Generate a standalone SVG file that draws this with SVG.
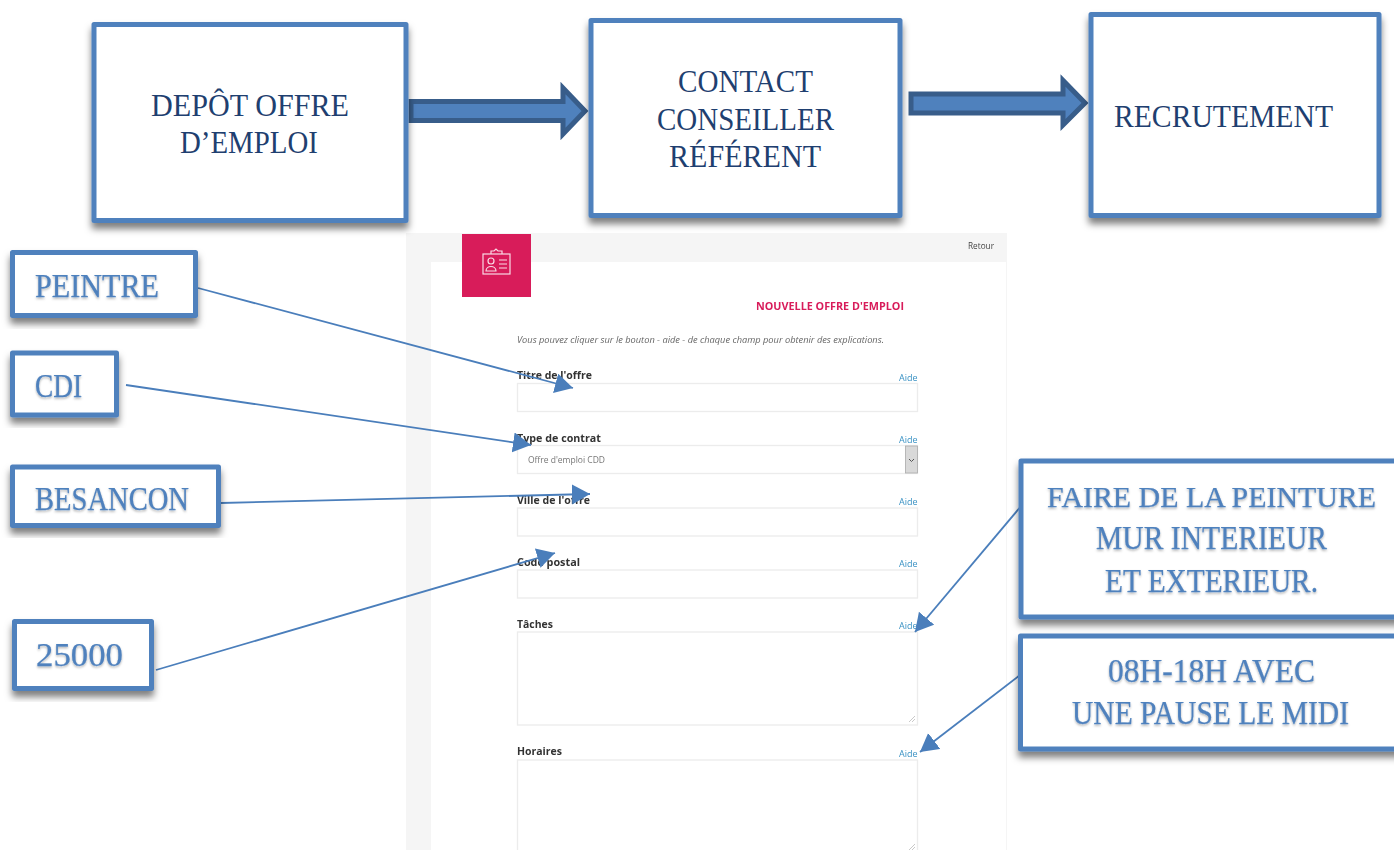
<svg xmlns="http://www.w3.org/2000/svg" width="1394" height="850" viewBox="0 0 1394 850">
<style>
.box{fill:#fff;stroke:#4f81bd;stroke-width:5;stroke-linejoin:round;filter:url(#sh)}
.big{font-family:"Liberation Serif",serif;font-size:31px;fill:#1f3f70}
.lab{font-family:"Liberation Serif",serif;font-size:33px;fill:#4f81bd;stroke:#4f81bd;stroke-width:.25;filter:url(#ts)}
.arr{fill:#4f81bd;stroke:#385d8a;stroke-width:5}
.ln{fill:none;stroke:#4a7ebb;stroke-width:1.8;marker-end:url(#ah)}
.f{font-family:"Open Sans","Noto Sans",sans-serif}
.fl{font-size:11px;font-weight:700;fill:#333}
.fa{font-size:9px;fill:#3a92c4}
.fi{fill:#fff;stroke:#ececec;stroke-width:1.3}
</style>
<defs>
<filter id="sh" x="-10%" y="-15%" width="120%" height="135%"><feDropShadow dx="0" dy="6" stdDeviation="3.5" flood-color="#000" flood-opacity=".5"/></filter>
<filter id="ts" x="-5%" y="-20%" width="110%" height="150%"><feDropShadow dx="0" dy="1.5" stdDeviation="1.2" flood-color="#000" flood-opacity=".3"/></filter>
<filter id="bl" x="-2%" y="-2%" width="104%" height="104%"><feGaussianBlur stdDeviation=".6"/></filter>
<marker id="ah" markerUnits="userSpaceOnUse" markerWidth="20" markerHeight="22" refX="18" refY="10" orient="auto"><path d="M0 0L18 10L0 20z" fill="#4a7ebb"/></marker>
</defs>
<g id="form" filter="url(#bl)">
<rect x="406" y="233" width="601" height="625" fill="#f5f5f5"/>
<rect x="431" y="262" width="575" height="596" fill="#fff"/>
<rect x="462" y="234" width="69" height="63" fill="#d81b5a"/>
<g fill="none" stroke="#f9dbe5" stroke-width="1.2"><rect x="483" y="254" width="27" height="20"/><path d="M491 254v-3h3l2-2 2 2h4v3M499 260h8M499 264h8M499 268h8"/><circle cx="491" cy="261" r="3"/><path d="M486 271c0-6 10-6 10 0z"/></g>
<text class="f" x="968" y="249" font-size="9" fill="#444" textLength="26" lengthAdjust="spacingAndGlyphs">Retour</text>
<text class="f" x="756" y="310" font-size="10.5" font-weight="700" fill="#d81b5a" textLength="148" lengthAdjust="spacingAndGlyphs">NOUVELLE OFFRE D'EMPLOI</text>
<text class="f" x="517" y="343" font-size="9" font-style="italic" fill="#666" textLength="367" lengthAdjust="spacingAndGlyphs">Vous pouvez cliquer sur le bouton - aide - de chaque champ pour obtenir des explications.</text>
<text class="f fl" x="517" y="379" textLength="75" lengthAdjust="spacingAndGlyphs">Titre de l'offre</text><text class="f fa" x="899" y="381">Aide</text>
<rect class="fi" x="517.500" y="383.500" width="400" height="28"/>
<text class="f fl" x="517" y="442" textLength="84" lengthAdjust="spacingAndGlyphs">Type de contrat</text><text class="f fa" x="899" y="443">Aide</text>
<rect class="fi" x="517.500" y="445.500" width="400" height="28"/>
<text class="f" x="528" y="463" font-size="8.500" fill="#777" textLength="77" lengthAdjust="spacingAndGlyphs">Offre d'emploi CDD</text>
<rect x="905.500" y="446" width="12" height="27" fill="#d9d9d9" stroke="#aaa" stroke-width=".8"/><path d="M909 459l2.500 2.500 2.500-2.500" fill="none" stroke="#555"/>
<text class="f fl" x="517" y="504" textLength="73" lengthAdjust="spacingAndGlyphs">Ville de l'offre</text><text class="f fa" x="899" y="505">Aide</text>
<rect class="fi" x="517.500" y="508" width="400" height="28"/>
<text class="f fl" x="517" y="566" textLength="63" lengthAdjust="spacingAndGlyphs">Code postal</text><text class="f fa" x="899" y="567">Aide</text>
<rect class="fi" x="517.500" y="570" width="400" height="28"/>
<text class="f fl" x="517" y="628" textLength="36" lengthAdjust="spacingAndGlyphs">Tâches</text><text class="f fa" x="899" y="629">Aide</text>
<rect class="fi" x="517.500" y="632" width="400" height="93"/>
<path d="M909 722l6-6M912 722l3-3" stroke="#bbb" stroke-width=".8"/>
<text class="f fl" x="517" y="755" textLength="45" lengthAdjust="spacingAndGlyphs">Horaires</text><text class="f fa" x="899" y="757">Aide</text>
<rect class="fi" x="517.500" y="760" width="400" height="100"/>
<path d="M909 850l6-6M912 850l3-3" stroke="#bbb" stroke-width=".8"/>
</g>
<g id="connectors">
<path class="arr" d="M411 101.500H563V88L585 111L563 134V120.500H411z"/>
<path class="arr" d="M911 94H1063V80.500L1085 103L1063 125V113H911z"/>
<path class="ln" d="M198 288L573 388"/>
<path class="ln" d="M126 385L531 445"/>
<path class="ln" d="M221 503L590 494"/>
<path class="ln" d="M156 670L555 553"/>
<path class="ln" d="M1022 505L915 632"/>
<path class="ln" d="M1020 675L920 752"/>
</g>
<g id="n-depot"><rect class="box" x="94" y="24.500" width="312" height="196"/>
<text class="big" x="151" y="116" textLength="198" lengthAdjust="spacingAndGlyphs">DEPÔT OFFRE</text>
<text class="big" x="180" y="153" textLength="138" lengthAdjust="spacingAndGlyphs">D’EMPLOI</text></g>
<g id="n-contact"><rect class="box" x="591" y="20.500" width="309" height="195"/>
<text class="big" x="678" y="92" textLength="135" lengthAdjust="spacingAndGlyphs">CONTACT</text>
<text class="big" x="657" y="130" textLength="177" lengthAdjust="spacingAndGlyphs">CONSEILLER</text>
<text class="big" x="669" y="167" textLength="152" lengthAdjust="spacingAndGlyphs">RÉFÉRENT</text></g>
<g id="n-recrutement"><rect class="box" x="1091" y="14.500" width="288" height="201"/>
<text class="big" x="1114" y="127" textLength="219" lengthAdjust="spacingAndGlyphs">RECRUTEMENT</text></g>
<g id="n-peintre"><rect class="box" x="12.500" y="252.500" width="183" height="63"/>
<text class="lab" x="35" y="297" textLength="124" lengthAdjust="spacingAndGlyphs">PEINTRE</text></g>
<g id="n-cdi"><rect class="box" x="12.500" y="353" width="104" height="62"/>
<text class="lab" x="35" y="397" textLength="47" lengthAdjust="spacingAndGlyphs">CDI</text></g>
<g id="n-besancon"><rect class="box" x="12.500" y="467" width="206" height="58.500"/>
<text class="lab" x="35" y="510" textLength="154" lengthAdjust="spacingAndGlyphs">BESANCON</text></g>
<g id="n-25000"><rect class="box" x="14.500" y="621.500" width="137" height="67"/>
<text class="lab" x="36" y="666" textLength="87" lengthAdjust="spacingAndGlyphs">25000</text></g>
<g id="n-taches"><rect class="box" x="1021" y="461" width="400" height="156"/>
<text class="lab" style="font-size:30px" x="1047" y="507" textLength="329" lengthAdjust="spacingAndGlyphs">FAIRE DE LA PEINTURE</text>
<text class="lab" x="1096" y="549" textLength="231" lengthAdjust="spacingAndGlyphs">MUR INTERIEUR</text>
<text class="lab" x="1105" y="592" textLength="213" lengthAdjust="spacingAndGlyphs">ET EXTERIEUR.</text></g>
<g id="n-horaires"><rect class="box" x="1020.500" y="636" width="400" height="113"/>
<text class="lab" x="1108" y="682" textLength="207" lengthAdjust="spacingAndGlyphs">08H-18H AVEC</text>
<text class="lab" x="1072" y="724" textLength="277" lengthAdjust="spacingAndGlyphs">UNE PAUSE LE MIDI</text></g>
</svg>
